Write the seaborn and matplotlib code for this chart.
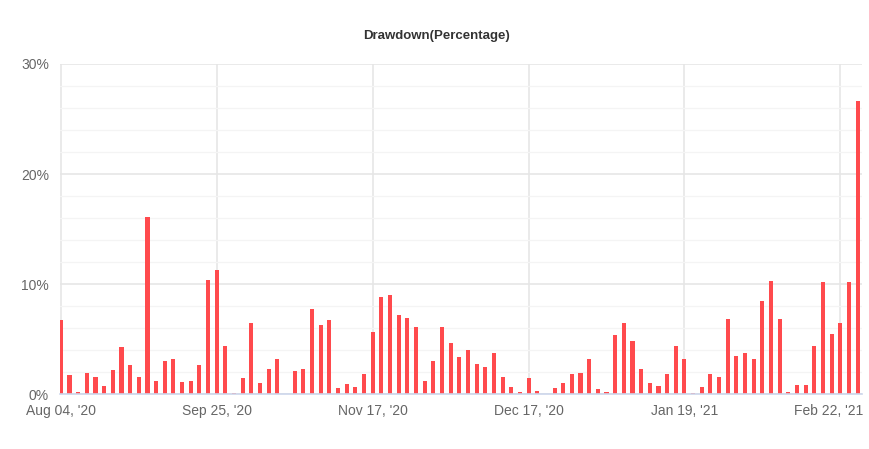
import numpy as np
import pandas as pd
import matplotlib
matplotlib.use("Agg")
import matplotlib.pyplot as plt
import matplotlib.transforms as mtransforms
import seaborn as sns
from matplotlib.ticker import MultipleLocator, FuncFormatter

# drawdown per period, in percent
drawdown = [6.7, 1.77, 0.2, 1.9, 1.55, 0.76, 2.2, 4.3, 2.6, 1.55,
            16.1, 1.22, 2.96, 3.14, 1.13, 1.22, 2.68, 10.35, 11.25, 4.4,
            0.12, 1.49, 6.5, 1.0, 2.25, 3.16, 0.0, 2.13, 2.25, 7.7,
            6.23, 6.7, 0.55, 0.88, 0.67, 1.79, 5.68, 8.85, 8.97, 7.14,
            6.93, 6.11, 1.22, 3.04, 6.11, 4.62, 3.4, 4.04, 2.7, 2.49,
            3.7, 1.55, 0.64, 0.18, 1.46, 0.3, 0.0, 0.55, 1.0, 1.79,
            1.91, 3.16, 0.43, 0.18, 5.32, 6.47, 4.86, 2.25, 1.0, 0.76,
            1.79, 4.4, 3.16, 0.12, 0.67, 1.8, 1.59, 6.83, 3.41, 3.75,
            3.17, 8.45, 10.24, 6.83, 0.21, 0.79, 0.79, 4.33, 10.18, 5.46,
            6.49, 10.18, 26.6]
tick_pos = [0, 18, 36, 54, 72, 90]
tick_labels = ["Aug 04, '20", "Sep 25, '20", "Nov 17, '20",
               "Dec 17, '20", "Jan 19, '21", "Feb 22, '21"]

df = pd.DataFrame({"idx": np.arange(len(drawdown)), "dd": drawdown})

sns.set_style("white")
plt.rcParams["font.family"] = ["Liberation Sans", "DejaVu Sans"]

fig = plt.figure(figsize=(8.7, 4.49), dpi=100)
ax = fig.add_axes([60 / 870, 55 / 449, 802 / 870, 330 / 449])

sns.barplot(data=df, x="idx", y="dd", color="#ff4a4d", saturation=1,
            width=0.47, ax=ax, zorder=3)
for p in ax.patches:
    p.set_edgecolor("none")

ax.set_xlim(-0.1, 92.5)
ax.set_ylim(0, 30)
ax.yaxis.set_major_locator(MultipleLocator(10))
ax.yaxis.set_minor_locator(MultipleLocator(2))
ax.yaxis.set_major_formatter(FuncFormatter(lambda v, _: f"{v:.0f}%"))
ax.grid(axis="y", which="major", color="#e6e6e6", linewidth=1.2, zorder=0)
ax.grid(axis="y", which="minor", color="#f4f4f4", linewidth=0.9, zorder=0)

ax.set_xticks(tick_pos)
ax.set_xticklabels(tick_labels)
ax.grid(axis="x", which="major", color="#e6e6e6", linewidth=1.2, zorder=0)

ax.tick_params(axis="both", which="both", length=0, colors="#666666",
               labelsize=10)
ax.tick_params(axis="x", pad=7)
ax.tick_params(axis="y", pad=8)

# last label is pushed left so it stays inside the plot, like the original
last = ax.get_xticklabels()[-1]
last.set_transform(last.get_transform() +
                   mtransforms.ScaledTranslation(-12 / 100, 0, fig.dpi_scale_trans))

for s in ["top", "right", "left"]:
    ax.spines[s].set_visible(False)
ax.spines["bottom"].set_color("#ccd6eb")
ax.spines["bottom"].set_linewidth(1.2)
ax.spines["bottom"].set_zorder(4)

ax.set_xlabel("")
ax.set_ylabel("")
fig.text(437 / 870, 1 - 36 / 449, "Drawdown(Percentage)", ha="center",
         va="center", fontsize=9.5, fontweight="bold", color="#333333")

fig.savefig("out.png", dpi=100)
